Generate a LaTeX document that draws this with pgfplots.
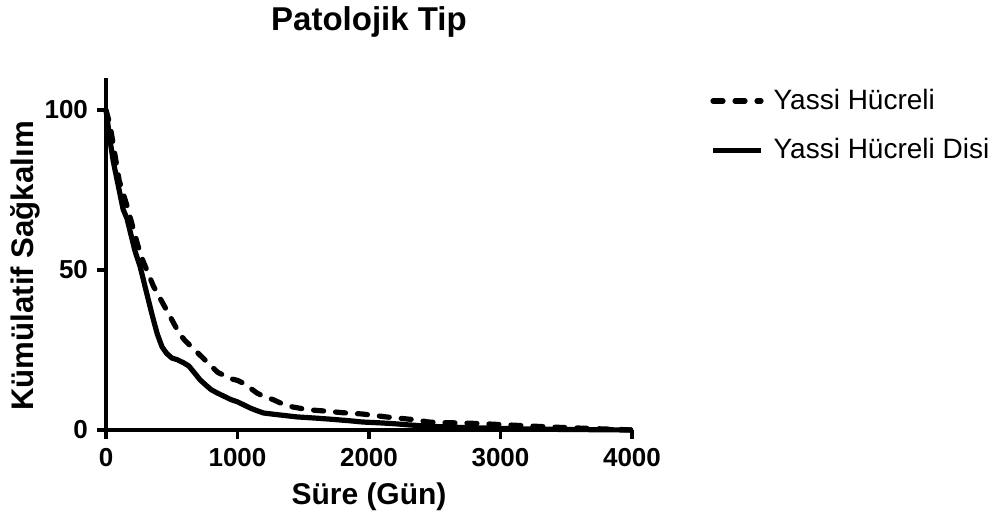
\documentclass[border=0pt]{standalone}
\usepackage{pgfplots}
\pgfplotsset{compat=1.18}
\usepackage{fontspec}
\setmainfont{Liberation Sans}
\begin{document}
\begin{tikzpicture}
\begin{axis}[
  at={(0,0)}, anchor=origin,
  scale only axis, width=263pt, height=176pt,
  xmin=0, xmax=4000, ymin=0, ymax=110,
  axis lines*=left,
  axis line style={line width=2pt,-},
  xtick={0,1000,2000,3000,4000},
  ytick={0,50,100},
  tick align=outside,
  major tick length=4.5pt,
  tick style={line width=1.6pt,black},
  /pgf/number format/assume math mode=true,
  /pgf/number format/1000 sep={},
  ticklabel style={font=\fontsize{13}{15}\selectfont\bfseries},
  xticklabel style={yshift=-1pt},
  yticklabel style={xshift=-1pt},
  xlabel={Süre (Gün)},
  ylabel={Kümülatif Sağkalım},
  every axis y label/.style={at={(rel axis cs:0,0)}, xshift=-40.5pt, yshift=82pt, rotate=90, anchor=center, font=\fontsize{15.6}{17}\selectfont\bfseries},
  every axis x label/.style={at={(rel axis cs:0,0)}, xshift=131.5pt, yshift=-33.5pt, anchor=center, font=\fontsize{15}{17}\selectfont\bfseries},
  title={Patolojik Tip},
  every axis title/.style={at={(rel axis cs:0,0)}, xshift=131.5pt, yshift=204pt, anchor=center, font=\fontsize{16.5}{18}\selectfont\bfseries},
  legend style={draw=none, fill=none, at={(rel axis cs:0,0)}, xshift=301pt, yshift=173.5pt, anchor=north west, font=\fontsize{14}{16}\selectfont, row sep=9pt, inner sep=1pt},
  legend cell align=left,
  legend image code/.code={\draw[#1] (0pt,0pt) -- (24pt,0pt); \path (27pt,0pt);},
  clip=false,
]
\addplot[sharp plot, black, line width=2.6pt, dash pattern=on 5pt off 6pt, line cap=round, line join=round] coordinates {
(0,100) (20,97) (40,93) (60,88) (80,83) (100,78) (130,74) (160,70) (200,64) (240,58)
(280,53) (320,49) (360,45) (400,42) (440,39) (480,36) (520,33) (560,30) (600,28) (650,26)
(700,24) (750,22) (800,20) (850,18) (900,17) (950,16) (1000,15.5) (1050,14.5) (1100,13) (1150,11.5)
(1200,10.5) (1270,9.5) (1350,8) (1420,7.2) (1500,6.6) (1580,6.2) (1700,5.8) (1800,5.4) (1950,5) (2050,4.5)
(2150,4) (2250,3.6) (2350,3.2) (2450,2.5) (2550,2.3) (2700,2.2) (2850,2) (2950,1.8) (3100,1.5) (3250,1.2)
(3400,0.9) (3600,0.6) (3800,0.3) (3950,0.1) (4000,0)
};
\addlegendentry{Yassi Hücreli}
\addplot[sharp plot, black, line width=2.6pt, line join=round] coordinates {
(0,100) (10,97) (25,92) (40,88) (55,84) (70,81) (90,77) (110,73) (130,69) (160,66)
(190,61) (220,56) (260,51) (290,46) (320,41) (357,35) (390,30) (426,26) (460,24) (500,22.5)
(540,22) (590,21) (630,20) (680,17.5) (715,15.7) (760,14) (800,12.6) (844,11.6) (900,10.5) (950,9.5)
(1000,8.8) (1050,7.8) (1095,6.9) (1150,6) (1200,5.3) (1300,4.8) (1450,4.1) (1600,3.7) (1700,3.4) (1850,2.9)
(1950,2.5) (2100,2.2) (2213,1.9) (2300,1.6) (2411,1.3) (2550,1) (2700,0.8) (2900,0.6) (3100,0.4) (3400,0.2)
(3700,0.1) (4000,0)
};
\addlegendentry{Yassi Hücreli Disi}
\end{axis}
\pgfresetboundingbox
\path[use as bounding box] (-53pt,-47pt) rectangle (444.5pt,215pt);
\end{tikzpicture}
\end{document}
